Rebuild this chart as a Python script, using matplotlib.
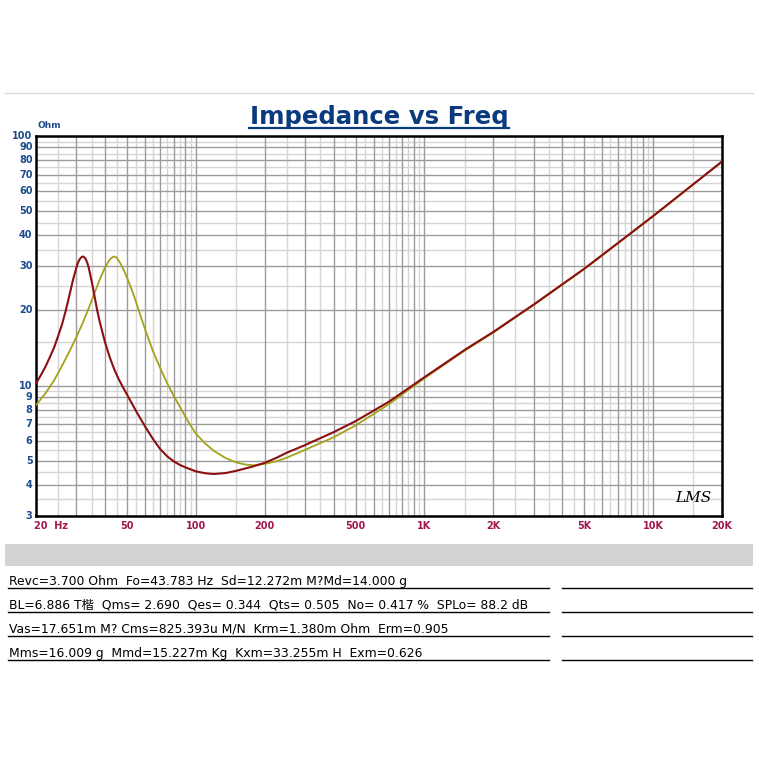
import matplotlib
matplotlib.use('Agg')
import matplotlib.pyplot as plt
from matplotlib.lines import Line2D
from matplotlib.patches import Rectangle

# ── data ──────────────────────────────────────────────────
freq_red = [20, 21, 22, 23, 24, 25, 26, 27, 28, 29, 30, 30.5, 31, 31.5, 32,
            32.5, 33, 33.5, 34, 35, 36, 37, 38, 40, 42, 44, 46, 48, 50, 55, 60,
            65, 70, 75, 80, 85, 90, 100, 110, 120, 135, 150, 175, 200, 225, 250,
            300, 400, 500, 700, 1000, 1500, 2000, 3000, 5000, 7000, 10000,
            14000, 20000]
z_red = [10.2, 11.0, 11.9, 13.0, 14.2, 15.8, 17.6, 20.0, 23.0, 26.4, 29.6,
         31.0, 32.0, 32.6, 32.9, 32.7, 32.1, 31.1, 29.7, 26.3, 23.0, 20.1, 18.0,
         15.0, 13.0, 11.6, 10.6, 9.85, 9.2, 7.85, 6.85, 6.1, 5.55, 5.2, 4.97,
         4.81, 4.70, 4.53, 4.45, 4.42, 4.46, 4.55, 4.72, 4.90, 5.13, 5.38, 5.77,
         6.5, 7.2, 8.62, 10.8, 13.9, 16.4, 21.1, 29.4, 37.2, 47.8, 61.0, 79.0]

freq_olive = [20, 22, 24, 26, 28, 30, 32, 34, 36, 38, 40, 42, 43.6, 45, 47,
              49, 51.5, 54, 57, 60, 65, 70, 75, 80, 85, 90, 95, 100, 110, 120,
              135, 150, 165, 180, 200, 225, 250, 300, 400, 500, 700, 1000, 1500,
              2000, 3000, 5000, 7000, 10000, 14000, 20000]
z_olive = [8.35, 9.3, 10.5, 12.0, 13.7, 15.6, 17.8, 20.4, 23.4, 26.6, 29.6,
           32.0, 32.9, 32.6, 30.7, 28.3, 25.3, 22.5, 19.3, 16.8, 13.7, 11.7,
           10.2, 9.1, 8.25, 7.5, 6.9, 6.42, 5.85, 5.47, 5.12, 4.92, 4.82, 4.79,
           4.85, 4.97, 5.14, 5.52, 6.2, 6.92, 8.43, 10.7, 13.8, 16.3, 21.0,
           29.3, 37.1, 47.7, 60.9, 79.0]

x_tick_vals = [20, 50, 100, 200, 500, 1000, 2000, 5000, 10000, 20000]
x_tick_text = ['20  Hz', '50', '100', '200', '500', '1K', '2K', '5K', '10K', '20K']
y_tick_vals = [3, 4, 5, 6, 7, 8, 9, 10, 20, 30, 40, 50, 60, 70, 80, 90, 100]

param_lines = [
    'Revc=3.700 Ohm  Fo=43.783 Hz  Sd=12.272m M?Md=14.000 g',
    'BL=6.886 T楷  Qms= 2.690  Qes= 0.344  Qts= 0.505  No= 0.417 %  SPLo= 88.2 dB',
    'Vas=17.651m M? Cms=825.393u M/N  Krm=1.380m Ohm  Erm=0.905',
    'Mms=16.009 g  Mmd=15.227m Kg  Kxm=33.255m H  Exm=0.626',
]

W = H = 759
BLUE = '#0b3b7c'
TICK_BLUE = '#1d4b8c'
TICK_RED = '#a3174f'

fig = plt.figure(figsize=(7.59, 7.59), dpi=100)
fig.patch.set_facecolor('white')


def fx(px):
    return px / W


def fy(py):
    return 1 - py / H


# top thin rule
fig.add_artist(Line2D([fx(5), fx(753)], [fy(93), fy(93)], color='#d9d9d9', lw=1))

# title (underlined)
fig.text(fx(379), fy(124), 'Impedance vs Freq', ha='center', va='baseline',
         fontsize=17.6, fontweight='bold', color=BLUE)
fig.add_artist(Line2D([fx(249), fx(509)], [fy(127.5), fy(127.5)], color=BLUE, lw=1.6))

# plot area
ax = fig.add_axes([fx(36), fy(516), fx(686), 380 / H])
ax.set_xscale('log')
ax.set_yscale('log')
ax.set_xlim(20, 20000)
ax.set_ylim(3, 100)

majors_x, minors_x = [], []
for dec in [10, 100, 1000, 10000]:
    for k in range(1, 10):
        v = k * dec
        if 20 <= v <= 20000:
            majors_x.append(v)
        h = (k + 0.5) * dec
        if 20 < h < 20000:
            minors_x.append(h)
majors_y, minors_y = [], []
for dec in [1, 10]:
    for k in range(1, 10):
        v = k * dec
        if 3 <= v <= 100:
            majors_y.append(v)
        h = (k + 0.5) * dec
        if 3 < h < 100:
            minors_y.append(h)

for v in minors_x:
    ax.axvline(v, color='#d6d6d6', lw=1, zorder=1)
for v in minors_y:
    ax.axhline(v, color='#d6d6d6', lw=1, zorder=1)
for v in majors_x:
    ax.axvline(v, color='#9c9c9c', lw=1, zorder=1)
for v in majors_y:
    ax.axhline(v, color='#9c9c9c', lw=1, zorder=1)

ax.plot(freq_olive, z_olive, color='#a3a21c', lw=1.3, zorder=3)
ax.plot(freq_red, z_red, color='#8b1010', lw=1.5, zorder=4)

ax.set_xticks([])
ax.set_yticks([])
ax.minorticks_off()
for s in ax.spines.values():
    s.set_linewidth(1.8)
    s.set_color('black')

# tick labels
xt = ax.get_xaxis_transform()
for v, t in zip(x_tick_vals, x_tick_text):
    ha = 'left' if v == 20 else 'center'
    xx = v * 0.985 if v == 20 else v
    ax.text(xx, -0.012, t, transform=xt, ha=ha, va='top', fontsize=7,
            fontweight='bold', color=TICK_RED)
yt = ax.get_yaxis_transform()
for v in y_tick_vals:
    ax.text(-0.005, v, str(v), transform=yt, ha='right', va='center',
            fontsize=7, fontweight='bold', color=TICK_BLUE)
fig.text(fx(38), fy(128), 'Ohm', ha='left', va='baseline', fontsize=6.5,
         fontweight='bold', color=TICK_BLUE)

# LMS logo
ax.text(0.985, 0.03, 'LMS', transform=ax.transAxes, ha='right', va='bottom',
        fontsize=11, fontstyle='italic', color='black', family='DejaVu Serif')

# parameter panel
fig.add_artist(Rectangle((fx(5), fy(566)), fx(748), 22 / H, transform=fig.transFigure,
                         facecolor='#d3d3d3', edgecolor='none'))
for i, line in enumerate(param_lines):
    base = 585 + i * 24
    fig.text(fx(9), fy(base), line, ha='left', va='baseline', fontsize=8.9,
             color='black', family=['DejaVu Sans', 'Noto Sans CJK SC'])
    fig.add_artist(Line2D([fx(8), fx(549)], [fy(base + 2.5), fy(base + 2.5)],
                          color='black', lw=1))
    fig.add_artist(Line2D([fx(562), fx(752)], [fy(base + 2.5), fy(base + 2.5)],
                          color='black', lw=1))

fig.savefig('out.png', dpi=100, facecolor='white')
